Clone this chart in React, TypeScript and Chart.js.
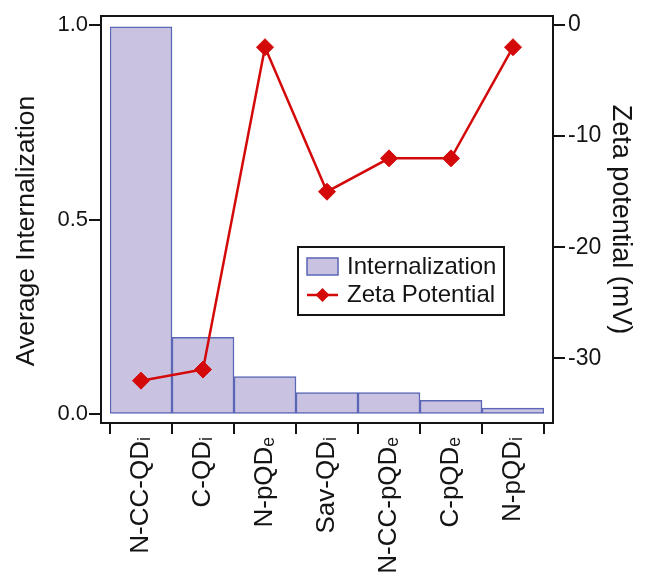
import React, { useEffect, useRef } from 'react';
import { Chart, registerables } from 'chart.js';

Chart.register(...registerables);

const categories = ['N-CC-QDᵢ', 'C-QDᵢ', 'N-pQDₑ', 'Sav-QDᵢ', 'N-CC-pQDₑ', 'C-pQDₑ', 'N-pQDᵢ'];
const internalization = [0.995, 0.197, 0.096, 0.055, 0.055, 0.035, 0.015];
const zetaPotential = [-32, -31, -2, -15, -12, -12, -2];
const leftTicks = [0, 0.5, 1.0];
const rightTicks = [-30, -20, -10, 0];
const legendLabels = ['Internalization', 'Zeta Potential'];
const leftTitle = 'Average Internalization';
const rightTitle = 'Zeta potential (mV)';

const FONT = '"Liberation Sans", "DejaVu Sans", Arial, sans-serif';
const BAR_FILL = '#C9C2E1';
const BAR_EDGE = '#5A66B6';
const RED = '#D40A0A';
const INK = '#141414';

const framePlugin = {
  id: 'framePlugin',
  afterDraw(chart: any) {
    const { ctx, chartArea: a, scales } = chart;
    const L = a.left - 9, R = a.right + 9, T = a.top - 9, B = a.bottom + 9;
    ctx.save();
    ctx.strokeStyle = INK;
    ctx.lineWidth = 2;
    ctx.strokeRect(L, T, R - L, B - T);
    ctx.beginPath();
    for (const v of leftTicks) {
      const y = Math.round(scales.y.getPixelForValue(v));
      ctx.moveTo(L - 12, y);
      ctx.lineTo(L, y);
    }
    for (const v of rightTicks) {
      const y = Math.round(scales.y1.getPixelForValue(v));
      ctx.moveTo(R, y);
      ctx.lineTo(R + 12, y);
    }
    const xs = scales.x;
    const n = categories.length;
    const w = xs.width / n;
    for (let k = 0; k <= n; k++) {
      const px = Math.round(xs.left + k * w);
      ctx.moveTo(px, B);
      ctx.lineTo(px, B + 11);
    }
    ctx.stroke();

    // left axis title
    ctx.save();
    ctx.translate(27, 231);
    ctx.rotate(-Math.PI / 2);
    ctx.fillStyle = INK;
    ctx.font = `26.5px ${FONT}`;
    ctx.textAlign = 'center';
    ctx.textBaseline = 'middle';
    ctx.fillText(leftTitle, 0, 0);
    ctx.restore();

    // legend
    const lx = 298, ly = 247, lw = 206, lh = 68;
    ctx.fillStyle = '#ffffff';
    ctx.fillRect(lx, ly, lw, lh);
    ctx.lineWidth = 2;
    ctx.strokeStyle = INK;
    ctx.strokeRect(lx, ly, lw, lh);
    ctx.fillStyle = BAR_FILL;
    ctx.fillRect(307, 258, 31, 17);
    ctx.lineWidth = 1.5;
    ctx.strokeStyle = BAR_EDGE;
    ctx.strokeRect(307, 258, 31, 17);
    ctx.strokeStyle = RED;
    ctx.lineWidth = 2.5;
    ctx.beginPath();
    ctx.moveTo(307, 295);
    ctx.lineTo(338, 295);
    ctx.stroke();
    ctx.fillStyle = RED;
    ctx.beginPath();
    ctx.moveTo(322.5, 288);
    ctx.lineTo(329.5, 295);
    ctx.lineTo(322.5, 302);
    ctx.lineTo(315.5, 295);
    ctx.closePath();
    ctx.fill();
    ctx.fillStyle = INK;
    ctx.font = `24px ${FONT}`;
    ctx.textBaseline = 'middle';
    ctx.textAlign = 'left';
    ctx.fillText(legendLabels[0], 347, 267);
    ctx.fillText(legendLabels[1], 347, 295);
    ctx.restore();
  },
};

export default function App() {
  const ref = useRef<HTMLCanvasElement | null>(null);

  useEffect(() => {
    if (!ref.current) return;
    const chart = new Chart(ref.current, {
      type: 'bar',
      data: {
        labels: categories,
        datasets: [
          {
            type: 'line',
            label: legendLabels[1],
            data: zetaPotential,
            yAxisID: 'y1',
            order: 0,
            borderColor: RED,
            borderWidth: 2.5,
            pointStyle: 'rectRot',
            pointRadius: 8.5,
            pointBackgroundColor: RED,
            pointBorderColor: RED,
            pointBorderWidth: 1,
            tension: 0,
            fill: false,
          } as any,
          {
            type: 'bar',
            label: legendLabels[0],
            data: internalization,
            yAxisID: 'y',
            order: 1,
            backgroundColor: BAR_FILL,
            borderColor: BAR_EDGE,
            borderWidth: 1.5,
            borderSkipped: false,
            barPercentage: 1,
            categoryPercentage: 1,
          } as any,
        ],
      },
      options: {
        responsive: false,
        animation: false,
        devicePixelRatio: 1,
        layout: { padding: { top: 25, left: 0, right: 0, bottom: 0 } },
        plugins: {
          legend: { display: false },
          tooltip: { enabled: false },
        },
        scales: {
          x: {
            type: 'category',
            offset: true,
            grid: { display: true, color: 'rgba(0,0,0,0)', drawOnChartArea: false, drawTicks: true, tickLength: 20, offset: true },
            border: { display: false },
            ticks: {
              autoSkip: false,
              maxRotation: 90,
              minRotation: 90,
              padding: 3,
              color: INK,
              font: { family: FONT, size: 26 },
            },
            afterFit: (s: any) => { s.height = 163; },
          },
          y: {
            type: 'linear',
            position: 'left',
            min: 0,
            max: 1,
            afterBuildTicks: (s: any) => { s.ticks = leftTicks.map((v) => ({ value: v })); },
            grid: { display: true, color: 'rgba(0,0,0,0)', drawOnChartArea: false, drawTicks: true, tickLength: 19 },
            border: { display: false },
            ticks: {
              padding: 3,
              color: INK,
              font: { family: FONT, size: 22 },
              callback: (v: any) => Number(v).toFixed(1),
            },
            afterFit: (s: any) => { s.width = 110; },
          },
          y1: {
            type: 'linear',
            position: 'right',
            min: -35,
            max: 0,
            afterBuildTicks: (s: any) => { s.ticks = rightTicks.map((v) => ({ value: v })); },
            grid: { display: true, color: 'rgba(0,0,0,0)', drawOnChartArea: false, drawTicks: true, tickLength: 19 },
            border: { display: false },
            ticks: {
              padding: 5,
              color: INK,
              font: { family: FONT, size: 23 },
              callback: (v: any) => String(v),
            },
            title: {
              display: true,
              text: rightTitle,
              color: INK,
              font: { family: FONT, size: 27 },
              padding: { top: 14, bottom: 0 },
            },
            afterFit: (s: any) => { s.width = 107; },
          },
        },
      },
      plugins: [framePlugin],
    });
    return () => chart.destroy();
  }, []);

  return (
    <div style={{ position: 'absolute', left: 0, top: 0, width: 651, height: 577, background: '#ffffff' }}>
      <canvas ref={ref} width={651} height={577} style={{ display: 'block', width: 651, height: 577 }} />
    </div>
  );
}
